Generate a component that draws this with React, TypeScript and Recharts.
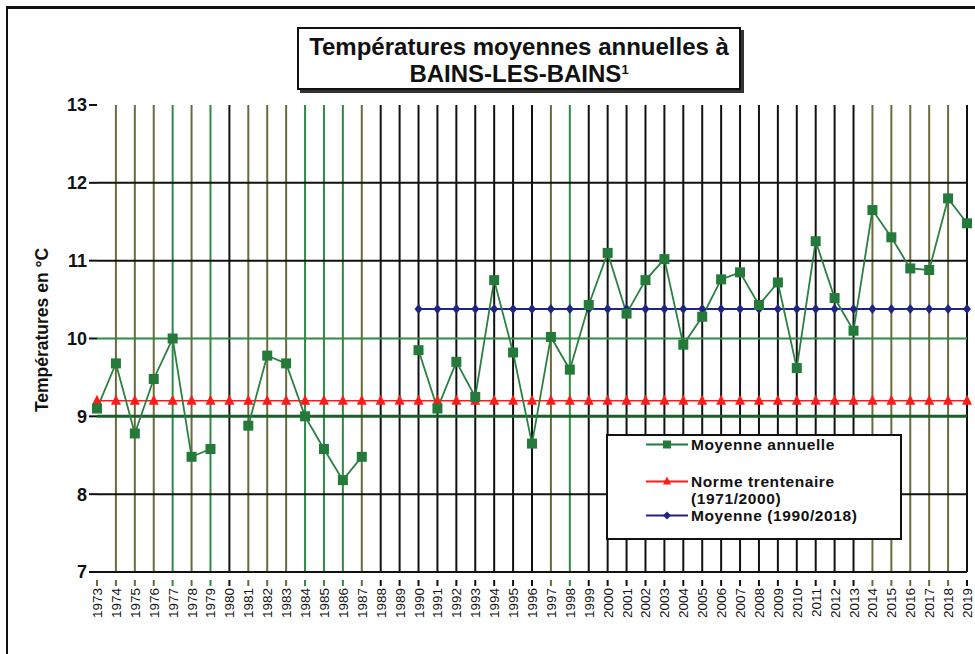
import React from 'react';
import { LineChart, Line, XAxis, YAxis, ReferenceLine } from 'recharts';

const years = [
  1973, 1974, 1975, 1976, 1977, 1978, 1979, 1980, 1981, 1982, 1983, 1984, 1985, 1986, 1987, 1988,
  1989, 1990, 1991, 1992, 1993, 1994, 1995, 1996, 1997, 1998, 1999, 2000, 2001, 2002, 2003, 2004,
  2005, 2006, 2007, 2008, 2009, 2010, 2011, 2012, 2013, 2014, 2015, 2016, 2017, 2018, 2019,
];

// moyenne annuelle (null = année manquante)
const annuelle = [
  9.1, 9.68, 8.78, 9.48, 10.0, 8.48, 8.58, null, 8.88, 9.78, 9.68, 9.0, 8.58, 8.18, 8.48, null,
  null, 9.85, 9.1, 9.7, 9.25, 10.75, 9.82, 8.65, 10.02, 9.6, 10.43, 11.1, 10.32, 10.75, 11.02, 9.92,
  10.28, 10.76, 10.85, 10.43, 10.72, 9.62, 11.25, 10.52, 10.1, 11.65, 11.3, 10.9, 10.88, 11.8, 11.48,
];

const normeValue = 9.2; // 1971/2000
const moyenneValue = 10.38; // 1990/2018
const moyenneStart = 1990;

const yTicks = [7, 8, 9, 10, 11, 12, 13];

// couleur des lignes verticales par année
const OLIVE = '#6b6a3c';
const GREEN = '#2e8a45';
const BLACK = '#111111';
const oliveYears = [1973, 1974, 1975, 1976, 1978, 1981, 1982, 1983, 1987, 1997, 2014, 2015, 2016, 2017, 2018];
const greenYears = [1977, 1979, 1984, 1985, 1986, 1998];

const yearColor = (y: number) =>
  oliveYears.includes(y) ? OLIVE : greenYears.includes(y) ? GREEN : BLACK;

const hLines = [
  { v: 8, color: BLACK, w: 2 },
  { v: 9, color: '#1b5e2c', w: 3 },
  { v: 10, color: GREEN, w: 2 },
  { v: 11, color: BLACK, w: 2 },
  { v: 12, color: BLACK, w: 2 },
];

const data = years.map((y, i) => ({
  year: y,
  annuelle: annuelle[i],
  norme: normeValue,
  moyenne: y >= moyenneStart ? moyenneValue : null,
}));

const FONT = 'Liberation Sans, Arial, sans-serif';

const SquareDot = (props: any) => {
  const { cx, cy, payload } = props;
  if (payload.annuelle == null) return null;
  return <rect key={`sq-${payload.year}`} x={cx - 5} y={cy - 5} width={10} height={10} fill="#237a3a" />;
};

const TriangleDot = (props: any) => {
  const { cx, cy, payload } = props;
  return (
    <polygon
      key={`tr-${payload.year}`}
      points={`${cx},${cy - 6} ${cx - 5},${cy + 4} ${cx + 5},${cy + 4}`}
      fill="#ff1a1a"
    />
  );
};

const DiamondDot = (props: any) => {
  const { cx, cy, payload } = props;
  if (payload.moyenne == null) return null;
  return (
    <polygon
      key={`di-${payload.year}`}
      points={`${cx},${cy - 5} ${cx + 4},${cy} ${cx},${cy + 5} ${cx - 4},${cy}`}
      fill="#1f2580"
    />
  );
};

const YearTick = (props: any) => {
  const { x, y, payload } = props;
  return (
    <g transform={`translate(${x},${y})`}>
      <line x1={0} y1={0} x2={0} y2={6} stroke={yearColor(payload.value)} strokeWidth={2} />
      <text
        transform="rotate(-90)"
        x={-8}
        dy={5}
        textAnchor="end"
        fontSize={13.5}
        fontFamily={FONT}
        fill="#111"
      >
        {payload.value}
      </text>
    </g>
  );
};

const YLabel = () => (
  <text
    x={48}
    y={330}
    transform="rotate(-90, 48, 330)"
    textAnchor="middle"
    fontSize={17.5}
    fontWeight="bold"
    fontFamily={FONT}
    fill="#111"
  >
    Températures en °C
  </text>
);

const legendItems = [
  { label: 'Moyenne annuelle', color: '#237a3a', shape: 'square', top: 0 },
  { label: 'Norme trentenaire', sub: '(1971/2000)', color: '#ff1a1a', shape: 'triangle', top: 37 },
  { label: 'Moyenne (1990/2018)', color: '#1f2580', shape: 'diamond', top: 71 },
];

const LegendBox = () => (
  <div
    style={{
      position: 'absolute',
      left: 606,
      top: 434,
      width: 292,
      height: 102,
      background: '#fff',
      border: '2px solid #111',
      fontFamily: FONT,
      fontWeight: 'bold',
      fontSize: 15.5,
      letterSpacing: 0.6,
      color: '#111',
    }}
  >
    {legendItems.map((it) => (
      <div key={it.label} style={{ position: 'absolute', left: 38, top: it.top }}>
        <svg width={44} height={17} style={{ position: 'absolute', left: 0, top: 0 }}>
          <line x1={0} y1={8.5} x2={42} y2={8.5} stroke={it.color} strokeWidth={2} />
          {it.shape === 'square' && <rect x={17} y={4.5} width={8} height={8} fill={it.color} />}
          {it.shape === 'triangle' && <polygon points="21,3.5 17,11.5 25,11.5" fill={it.color} />}
          {it.shape === 'diamond' && <polygon points="21,4.5 25,8.5 21,12.5 17,8.5" fill={it.color} />}
        </svg>
        <div style={{ position: 'absolute', left: 45, top: 0, whiteSpace: 'nowrap', lineHeight: '17px' }}>
          {it.label}
          {it.sub && <div>{it.sub}</div>}
        </div>
      </div>
    ))}
  </div>
);

export default function App() {
  return (
    <div style={{ position: 'absolute', left: 0, top: 0, width: 975, height: 654, background: '#fff' }}>
      {/* cadre extérieur */}
      <div
        style={{
          position: 'absolute',
          left: 6,
          top: 6,
          width: 975 - 6,
          height: 654 - 6,
          borderLeft: '2px solid #111',
          borderTop: '3px solid #111',
        }}
      />
      <LineChart
        width={975}
        height={654}
        data={data}
        margin={{ top: 105, right: 8, bottom: 22, left: 37 }}
        style={{ position: 'absolute', left: 0, top: 0 }}
      >
        <XAxis
          dataKey="year"
          interval={0}
          tick={<YearTick />}
          tickLine={false}
          axisLine={{ stroke: '#111', strokeWidth: 2 }}
          height={60}
        />
        <YAxis
          domain={[7, 13]}
          ticks={yTicks}
          width={60}
          axisLine={false}
          tickLine={{ stroke: '#111', strokeWidth: 2 }}
          tickSize={8}
          tick={{ fill: '#111', fontSize: 18, fontWeight: 'bold', fontFamily: FONT }}
          label={<YLabel />}
        />
        {years.map((y) => (
          <ReferenceLine key={`v-${y}`} x={y} stroke={yearColor(y)} strokeWidth={2} />
        ))}
        {hLines.map((h) => (
          <ReferenceLine key={`h-${h.v}`} y={h.v} stroke={h.color} strokeWidth={h.w} />
        ))}
        <Line
          dataKey="norme"
          stroke="#ff1a1a"
          strokeWidth={1.5}
          dot={<TriangleDot />}
          isAnimationActive={false}
        />
        <Line
          dataKey="moyenne"
          stroke="#1f2580"
          strokeWidth={2}
          dot={<DiamondDot />}
          isAnimationActive={false}
        />
        <Line
          dataKey="annuelle"
          stroke="#2a8040"
          strokeWidth={1.8}
          dot={<SquareDot />}
          connectNulls={false}
          isAnimationActive={false}
        />
      </LineChart>
      <LegendBox />
      {/* titre */}
      <div
        style={{
          position: 'absolute',
          left: 297,
          top: 27,
          width: 444,
          height: 63,
          border: '2px solid #111',
          boxShadow: '3px 3px 0 #333',
          background: '#fff',
          textAlign: 'center',
          fontFamily: FONT,
          fontWeight: 'bold',
          fontSize: 24,
          lineHeight: '27px',
          paddingTop: 4,
          boxSizing: 'border-box',
          color: '#111',
        }}
      >
        Températures moyennes annuelles à
        <br />
        BAINS-LES-BAINS<sup style={{ fontSize: 13, verticalAlign: 'top', lineHeight: '20px' }}>1</sup>
      </div>
    </div>
  );
}
